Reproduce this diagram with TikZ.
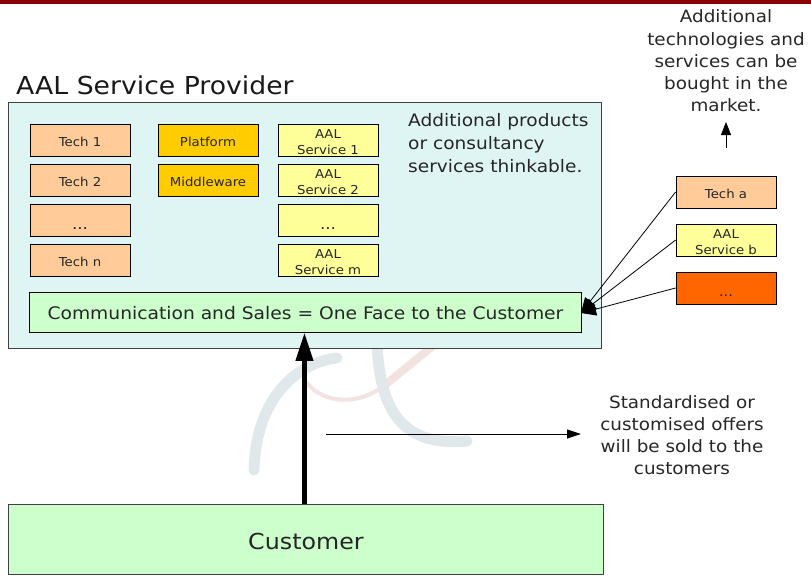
\documentclass[tikz,border=0pt]{standalone}
\usepackage{fontspec}
\setmainfont[FakeStretch=1.08]{DejaVu Sans}
\usetikzlibrary{arrows.meta}
\definecolor{techc}{HTML}{FFCC99}
\definecolor{platc}{HTML}{FFCC00}
\definecolor{servc}{HTML}{FFFF99}
\definecolor{orangec}{HTML}{FF6600}
\definecolor{greenc}{HTML}{CCFFCC}
\definecolor{mainc}{HTML}{DFF5F3}
\definecolor{barc}{HTML}{8B0000}
\definecolor{wmblue}{HTML}{E1E8EB}
\definecolor{wmred}{HTML}{F2E3E1}
\tikzset{
 x=1pt,y=-1pt,
 every node/.style={font=\fontsize{12}{13}\selectfont},
 sbox/.style={draw=black,line width=0.8pt,minimum width=100pt,minimum height=32pt,inner sep=0pt,align=center,text=black!85,font=\fontsize{12.3}{16}\selectfont},
 tech/.style={sbox,fill=techc},
 plat/.style={sbox,fill=platc},
 serv/.style={sbox,fill=servc},
 big/.style={draw=black!75,line width=0.9pt,inner sep=0pt,text=black!85},
 note/.style={inner sep=0pt,align=center,text=black!85,font=\fontsize{17}{22.2}\selectfont},
 thin arrow/.style={draw=black,line width=0.8pt,-{Triangle[length=13pt,width=10pt]}},
 wm/.style={line width=#1,line cap=round,draw=wmblue},
}
\newcommand{\one}[1]{\raisebox{-6.5pt}[0pt][0pt]{#1}}
\newcommand{\twol}[2]{\rule{0pt}{12.5pt}#1\\#2}
\newcommand{\bigdots}{\raisebox{-9.5pt}[0pt][0pt]{\fontsize{15.5}{15.6}\selectfont ...}}
\newcommand{\smalldots}{\raisebox{-8pt}[0pt][0pt]{\fontsize{13.5}{15.6}\selectfont ...}}
\begin{document}
\begin{tikzpicture}
\useasboundingbox (0,0) rectangle (811,578);
\fill[barc] (0,0) rectangle (811,4);
% watermark
\draw[line width=4pt,draw=wmred,line cap=round] (307,383) .. controls (325,405) and (360,405) .. (385,385);
\draw[line width=8pt,draw=wmred] (385,385) -- (434,345);
\draw[wm=11pt] (337,358) .. controls (300,362) and (256,395) .. (254,470);
\draw[wm=11pt] (377,345) .. controls (380,400) and (395,448) .. (467,441);
% main
\node[big,fill=mainc,minimum width=593pt,minimum height=246pt,anchor=north west] (main) at (8,102) {};
\node[anchor=base west,inner sep=0pt,text=black!90,font=\fontsize{24.7}{28}\selectfont] (title) at (16,95) {AAL Service Provider};
\node[anchor=north west,inner sep=0pt,align=left,text=black!85,font=\fontsize{17.2}{23}\selectfont] (extra) at (408,113) {Additional products\\or consultancy\\services thinkable.};
\node[tech] (t1) at (80,140) {\one{Tech 1}};
\node[tech] (t2) at (80,180) {\one{Tech 2}};
\node[tech] (t3) at (80,220) {\bigdots};
\node[tech] (tn) at (80,260) {\one{Tech n}};
\node[plat] (pl) at (208,140) {\one{Platform}};
\node[plat] (mw) at (208,180) {\one{Middleware}};
\node[serv] (s1) at (328,140) {\twol{AAL}{Service 1}};
\node[serv] (s2) at (328,180) {\twol{AAL}{Service 2}};
\node[serv] (s3) at (328,220) {\bigdots};
\node[serv] (sm) at (328,260) {\twol{AAL}{Service m}};
\node[big,draw=black,fill=greenc,minimum width=552pt,minimum height=40pt,anchor=north west,font=\fontsize{17.3}{20}\selectfont] (comm) at (29,292) {\raisebox{-7pt}[0pt][0pt]{Communication and Sales = One Face to the Customer}};
\node[big,fill=greenc,minimum width=595pt,minimum height=70pt,anchor=north west,font=\fontsize{22}{26}\selectfont] (cust) at (8,504) {\raisebox{-10pt}[0pt][0pt]{Customer}};
\node[tech] (ta) at (726,192) {\one{Tech a}};
\node[serv] (sb) at (726,240) {\twol{AAL}{Service b}};
\node[sbox,fill=orangec] (dots) at (726,288) {\smalldots};
\node[note] (market) at (726,61) {Additional\\technologies and\\services can be\\bought in the\\market.};
\node[note] (offers) at (682,435) {Standardised or\\customised offers\\will be sold to the\\customers};
\coordinate (m0) at (726,148);
\coordinate (m1) at (726,122);
\coordinate (o0) at (326,434);
\coordinate (o1) at (581,434);
\coordinate (hub) at (581,313);
\draw[thin arrow] (m0) -- (m1);
\draw[thin arrow,-{Triangle[length=14pt,width=9pt]}] (o0) -- (o1);
\draw[thin arrow,-{Triangle[length=15pt,width=13pt]}] (ta.west) -- (hub);
\draw[thin arrow,-{Triangle[length=15pt,width=13pt]}] (sb.west) -- (hub);
\draw[thin arrow,-{Triangle[length=15pt,width=13pt]}] (dots.west) -- (hub);
\draw[line width=4.2pt,-{Triangle[length=28pt,width=17pt]}] ([xshift=-1.5pt]cust.north) -- ([xshift=-1pt]comm.south);
\end{tikzpicture}
\end{document}
